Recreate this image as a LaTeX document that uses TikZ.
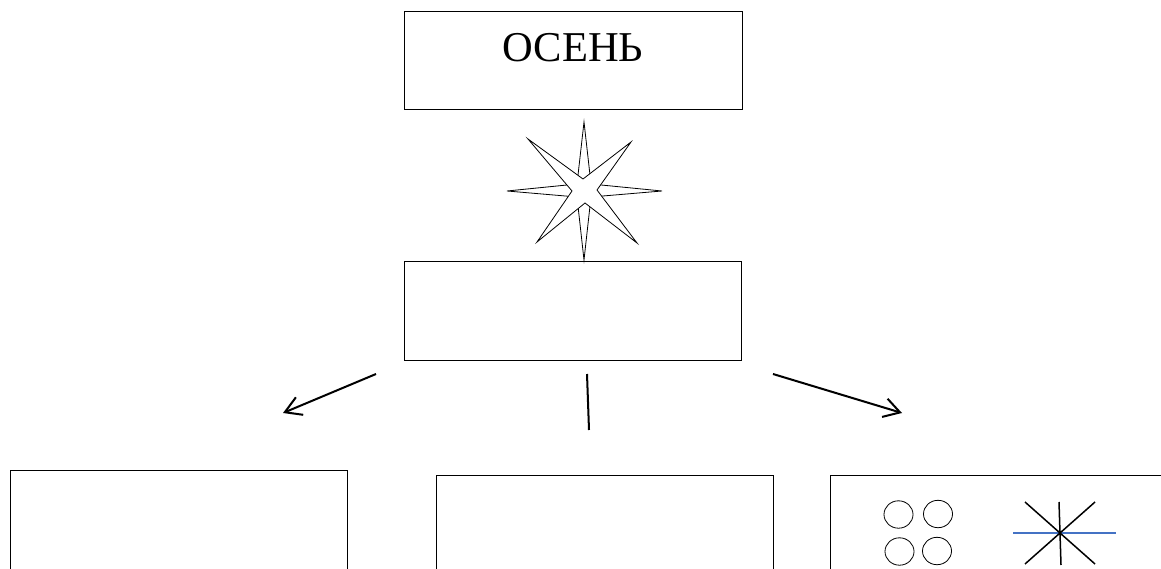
\documentclass[tikz,border=0pt]{standalone}
\usepackage{fontspec}
\setmainfont{Liberation Serif}
\usepackage{xcolor}
\usepackage{tikz}
\usetikzlibrary{arrows.meta}
\usetikzlibrary{positioning}
\definecolor{lineblue}{HTML}{4472C4}

\begin{document}
\begin{tikzpicture}[x=1pt,y=-1pt,
   box/.style={draw,line width=1pt,minimum width=337pt,minimum height=98pt,inner sep=0pt},
   pointer/.style={line width=2pt,-{Straight Barb[length=16pt,width=19pt]}},
   starline/.style={draw,fill=white,line width=0.8pt}]
   \useasboundingbox (0,0) rectangle (1161,569);
   \clip (0,0) rectangle (1161,569);
   \node[box,minimum width=338pt,text height=50pt,text depth=48pt,font=\fontsize{42.5}{50}\selectfont] (autumn) at (573,61) {ОСЕНЬ};
   \node[box] (signs) [below=151pt of autumn] {};
   \node[box,minimum height=110pt] (boxM) [below=114pt of signs, xshift=31.5pt] {};
   \node[box,minimum height=110pt] (boxL) [left=88pt of boxM, yshift=5pt] {};
   \node[box,minimum height=110pt] (boxR) [right=56pt of boxM] {};
   \draw[starline] (584,122) -- (591,184) -- (662,191) -- (591,197) -- (584,260) -- (577,197) -- (507,191) -- (577,184) -- cycle;
   \draw[starline] (528,139) -- (583,179) -- (631,142) -- (597,190) -- (637,243) -- (585,203) -- (537,242) -- (572,191) -- cycle;
   \coordinate (p1) at (376,374);
   \coordinate (p2) at (283,413);
   \coordinate (q1) at (587,374);
   \coordinate (q2) at (589,430);
   \coordinate (r1) at (773,374);
   \coordinate (r2) at (902,413);
   \draw[pointer] (p1) -- (p2);
   \draw[line width=2pt] (q1) -- (q2);
   \draw[pointer] (r1) -- (r2);
   \foreach \cx/\cy in {898.5/514.5, 938/514, 899.5/551.5, 937/551}
      \draw[line width=0.8pt] (\cx,\cy) ellipse [x radius=14.5pt, y radius=13.7pt];
   \draw[lineblue,line width=1.5pt] (1013,533) -- (1116,533);
   \draw[line width=1.5pt] (1059,502) -- (1061,565) (1025,502) -- (1095,564) (1095,502) -- (1025,564);
\end{tikzpicture}
\end{document}
